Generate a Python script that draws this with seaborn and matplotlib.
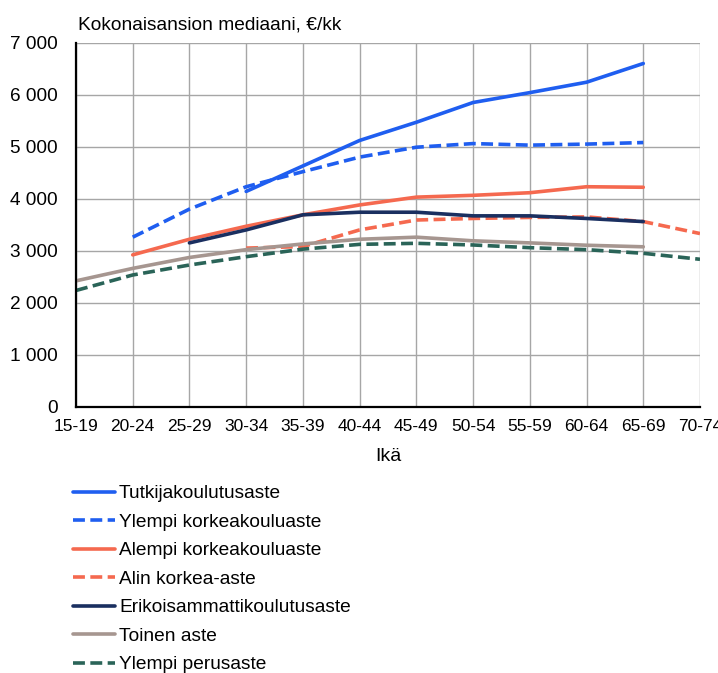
import numpy as np
import pandas as pd
import matplotlib
matplotlib.use("Agg")
import matplotlib.pyplot as plt
import seaborn as sns
from matplotlib.ticker import FuncFormatter, FixedLocator

nan = np.nan
ages = ["15-19", "20-24", "25-29", "30-34", "35-39", "40-44", "45-49",
        "50-54", "55-59", "60-64", "65-69", "70-74"]
levels = ["Tutkijakoulutusaste", "Ylempi korkeakouluaste", "Alempi korkeakouluaste",
          "Alin korkea-aste", "Erikoisammattikoulutusaste", "Toinen aste", "Ylempi perusaste"]
tutkija = [nan, nan, nan, 4140, 4630, 5120, 5470, 5850, 6040, 6240, 6600, nan]
ylempi_kk = [nan, 3260, 3800, 4230, 4520, 4800, 4990, 5060, 5030, 5050, 5080, nan]
alempi_kk = [nan, 2920, 3220, 3470, 3690, 3880, 4030, 4065, 4115, 4230, 4220, nan]
alin_ka = [nan, nan, nan, 3050, 3080, 3400, 3590, 3620, 3640, 3650, 3560, 3330]
erikois = [nan, nan, 3150, 3400, 3690, 3740, 3740, 3670, 3670, 3620, 3560, nan]
toinen = [2420, 2660, 2870, 3020, 3130, 3220, 3260, 3190, 3150, 3105, 3075, nan]
ylempi_perus = [2235, 2533, 2725, 2885, 3030, 3122, 3142, 3110, 3058, 3020, 2950, 2835]
series = [tutkija, ylempi_kk, alempi_kk, alin_ka, erikois, toinen, ylempi_perus]
colors = ["#1F5EF0", "#1F5EF0", "#F5694F", "#F5694F", "#1A2F60", "#A69690", "#2A6458"]
dashed = [False, True, False, True, False, False, True]
yticks = [0, 1000, 2000, 3000, 4000, 5000, 6000, 7000]

rows = []
for lvl, vals in zip(levels, series):
    for i, v in enumerate(vals):
        if not np.isnan(v):
            rows.append({"pos": i, "age": ages[i], "value": v, "level": lvl})
df = pd.DataFrame(rows)

sns.set_theme(style="white")
plt.rcParams["font.family"] = ["Liberation Sans", "DejaVu Sans"]
plt.rcParams["text.color"] = "black"

W, H = 718, 673
fig = plt.figure(figsize=(W / 100, H / 100), dpi=100)
ax = fig.add_axes([76 / W, 1 - 406.7 / H, (700 - 76) / W, (406.7 - 42.7) / H])

palette = dict(zip(levels, colors))
dash_map = {l: ((3.3, 1.5) if d else "") for l, d in zip(levels, dashed)}
sns.lineplot(data=df, x="pos", y="value", hue="level", style="level",
             hue_order=levels, style_order=levels, palette=palette, dashes=dash_map,
             linewidth=2.6, ax=ax, legend="full", sort=True, estimator=None)

ax.set_xlim(0, len(ages) - 1)
ax.set_ylim(0, 7000)
ax.xaxis.set_major_locator(FixedLocator(range(len(ages))))
ax.set_xticklabels(ages)
ax.yaxis.set_major_locator(FixedLocator(yticks))
ax.yaxis.set_major_formatter(FuncFormatter(lambda v, p: f"{int(v):,}".replace(",", " ")))
ax.grid(True, color="#A6A6A6", linewidth=1.0)
ax.set_axisbelow(True)
for s in ["top", "right"]:
    ax.spines[s].set_visible(False)
ax.spines["left"].set_color("black")
ax.spines["left"].set_linewidth(1.6)
ax.spines["bottom"].set_color("black")
ax.spines["bottom"].set_linewidth(1.6)
ax.tick_params(axis="y", length=0, pad=13, labelsize=13.7, labelcolor="black")
ax.tick_params(axis="x", length=0, pad=9, labelsize=12.5, labelcolor="black")
ax.set_xlabel("Ikä", fontsize=14, color="black", labelpad=10)
ax.set_ylabel("")

fig.text(78 / W, 1 - 30 / H, "Kokonaisansion mediaani, €/kk", fontsize=13.8,
         color="black", ha="left", va="baseline")

handles, labels = ax.get_legend_handles_labels()
ax.get_legend().remove()
leg = fig.legend(handles, labels, loc="upper left", bbox_to_anchor=(69 / W, 1 - 481 / H),
                 frameon=False, fontsize=13.75, handlelength=2.2, handletextpad=0.22,
                 labelspacing=0.585, borderaxespad=0, borderpad=0.2)
for t in leg.get_texts():
    t.set_color("black")

fig.savefig("out.png", dpi=100)
